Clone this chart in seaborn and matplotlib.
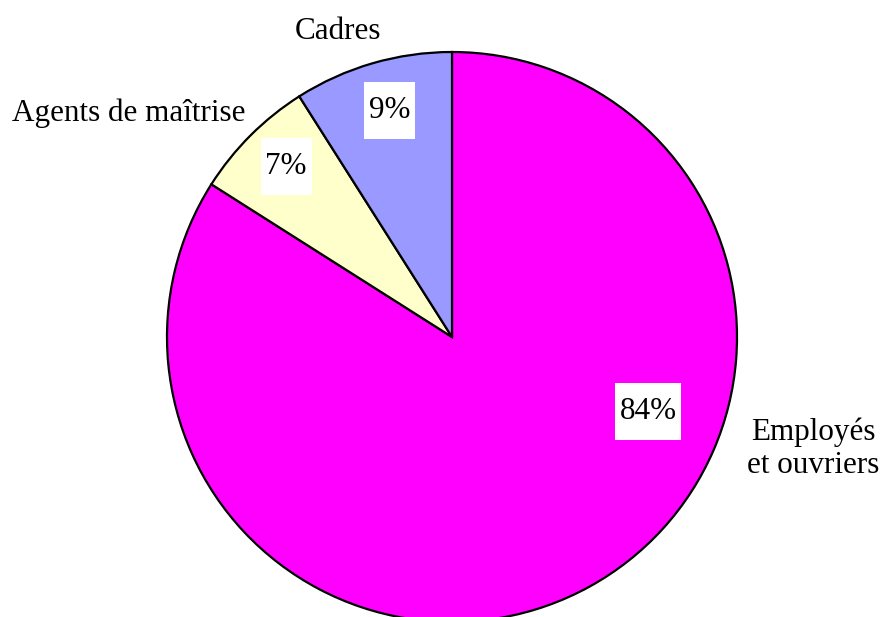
import matplotlib
matplotlib.use("Agg")
import matplotlib.pyplot as plt
from matplotlib.path import Path
import seaborn as sns

# Data
categories = ["Employés\net ouvriers", "Agents de maîtrise", "Cadres"]
shares = [84, 7, 9]
pct_labels = ["84%", "7%", "9%"]
colors = ["#FF00FF", "#FFFFCC", "#9999FF"]

sns.set_theme(style="white")
plt.rcParams["font.family"] = ["Liberation Serif", "DejaVu Serif"]

W, H = 883, 617
fig = plt.figure(figsize=(W / 100, H / 100), dpi=100)
ax = fig.add_axes([0, 0, 1, 1])

cx, cy, R = 452, 337, 285

ax.pie(shares, colors=colors, startangle=90, counterclock=False,
       wedgeprops=dict(edgecolor="black", linewidth=1.6), frame=True)
ax.set_xlim(-cx / R, (W - cx) / R)
ax.set_ylim(-(H - cy) / R, cy / R)
ax.set_aspect("auto")
ax.axis("off")


def label_box(x0, y0, width, height, mutation_size):
    padx = 0.15 * mutation_size
    pady = 0.45 * mutation_size
    x0, x1 = x0 - padx, x0 + width + padx
    y0, y1 = y0 - pady, y0 + height + pady
    return Path([(x0, y0), (x1, y0), (x1, y1), (x0, y1), (x0, y0)], closed=True)


fs = 22.4
# percentage label positions (in radius units)
pct_pos = [(0.688, -0.26), (-0.582, 0.60), (-0.218, 0.795)]
for (x, y), t in zip(pct_pos, pct_labels):
    ax.text(x, y, t, ha="center", va="center", fontsize=fs, color="black",
            bbox=dict(boxstyle=label_box, facecolor="white", edgecolor="none"))

cat_pos = [(1.267, -0.393, "center"), (-0.723, 0.785, "right"), (-0.40, 1.072, "center")]
for (x, y, ha), t in zip(cat_pos, categories):
    ax.text(x, y, t, ha=ha, va="center", fontsize=fs, color="black",
            multialignment="center", linespacing=1.17)

fig.savefig("out.png", dpi=100, facecolor="white")
